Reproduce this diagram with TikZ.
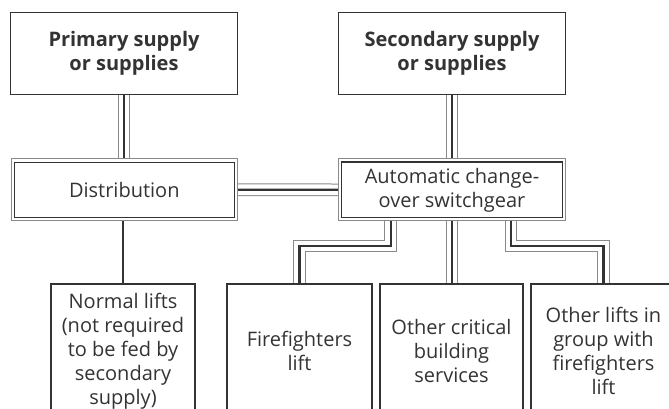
\documentclass[tikz,border=0pt]{standalone}
\usepackage{fontspec}
\setmainfont{Open Sans}
\usetikzlibrary{fit,calc}
\definecolor{ink}{HTML}{333333}
\definecolor{rim}{HTML}{8A8A8A}
\begin{document}
\begin{tikzpicture}[x=1pt,y=-1pt,
  every node/.style={text=ink, align=center, font=\fontsize{20}{24}\selectfont},
  box/.style={draw=ink, line width=1.3pt, inner sep=0pt},
  title/.style={font=\fontsize{20}{24}\selectfont\bfseries},
  framed/.style={draw=rim, line width=0.9pt, inner sep=2.7pt},
  cable/.style={draw=ink, line width=2.2pt, line join=miter,
    preaction={draw=rim, line width=12.6pt, line join=miter},
    preaction={draw=white, line width=10.6pt, line join=miter}},
  feed/.style={draw=ink, line width=1.6pt}
]
\useasboundingbox (0,0) rectangle (669,408);
\clip (0,0) rectangle (669,408);

% supplies
\node[box, title, minimum width=227, minimum height=82] (prim) at (124,53.5) {Primary supply\\or supplies};
\node[box, title, minimum width=227, minimum height=82] (sec) at (452,53.5) {Secondary supply\\or supplies};

% distribution and change-over switchgear (double framed)
\node[box, minimum width=220, minimum height=55] (dist) at (124.3,189.7) {Distribution};
\node[framed, fit=(dist)] (distframe) {};
\node[box, minimum width=220.6, minimum height=55.5] (ats) at (452,189.8) {Automatic change-\\over switchgear};
\node[framed, fit=(ats)] (atsframe) {};

% loads
\node[box, minimum width=144, minimum height=134] (nl) at (123,351) {Normal lifts\\(not required\\to be fed by\\secondary\\supply)};
\node[box, minimum width=145, minimum height=134] (ff) at (299.5,351) {Firefighters\\lift};
\node[box, minimum width=143, minimum height=134] (oc) at (451.5,351) {Other critical\\building\\services};
\node[box, minimum width=145, minimum height=134] (ol) at (603.5,351) {Other lifts in\\group with\\firefighters\\lift};

% connections
\draw[cable] (prim.south) -- (prim.south |- distframe.north);
\draw[cable] (sec.south) -- (sec.south |- atsframe.north);
\draw[cable] (distframe.east) -- (atsframe.west);
\draw[feed] (distframe.south -| nl.north) -- (nl.north);
\draw[cable] ([xshift=-61.3pt]atsframe.south) -- ++(0,24.8) -| (ff.north);
\draw[cable] (atsframe.south) -- (atsframe.south |- oc.north);
\draw[cable] ([xshift=59pt]atsframe.south) -- ++(0,24.8) -| (ol.north);
\end{tikzpicture}
\end{document}
